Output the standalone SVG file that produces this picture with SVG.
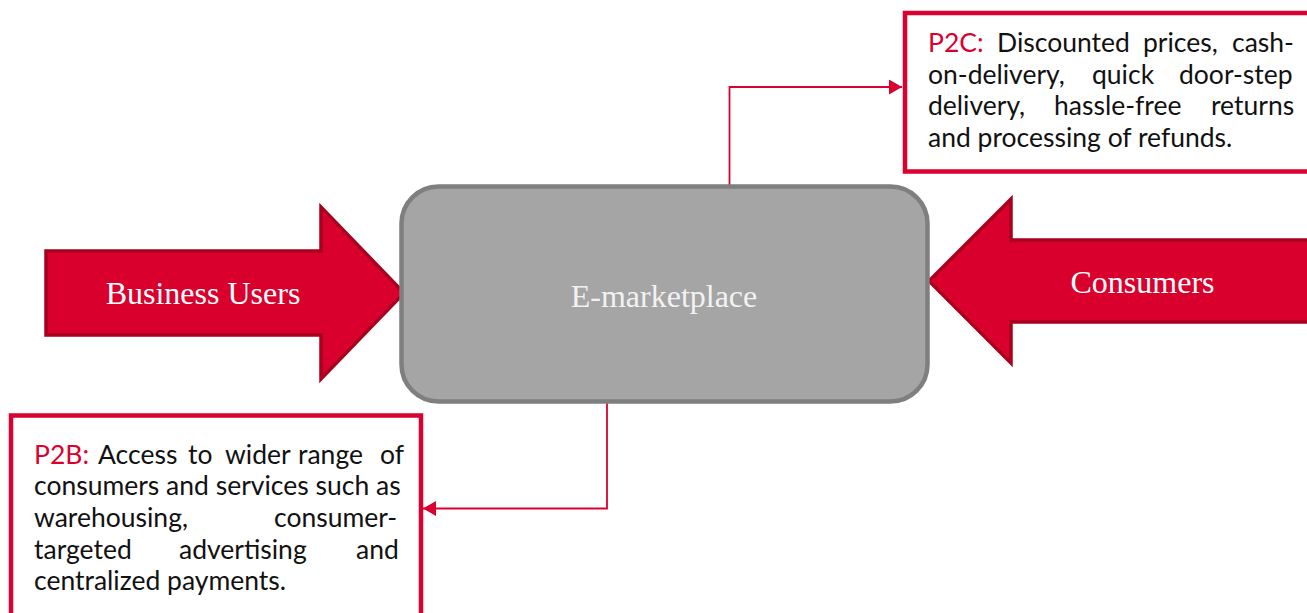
<svg xmlns="http://www.w3.org/2000/svg" width="1307" height="613" viewBox="0 0 1307 613">
<style>
.bigarrow{fill:#DA002E;stroke:#A8001F;stroke-width:3.5;stroke-linejoin:miter}
.serif{font-family:"Liberation Serif","Times New Roman",serif;font-size:32px;text-anchor:middle}
.note{fill:#fff;stroke:#DA0030;stroke-width:4.5}
.body{font-family:Lato,"Liberation Sans",sans-serif;font-size:26.5px;fill:#111}
.red{fill:#DA0030}
.conn{fill:none;stroke:#DA0030;stroke-width:1.8}
</style>
<defs>
<marker id="ah" markerUnits="userSpaceOnUse" markerWidth="14" markerHeight="15" refX="13" refY="7.5" orient="auto">
<path d="M0,0 L13,7.5 L0,15 z" fill="#DA0030"/>
</marker>
</defs>
<rect width="1307" height="613" fill="#fff"/>

<g id="connectors">
<polyline class="conn" points="729.5,186 729.5,87 902,87" marker-end="url(#ah)"/>
<polyline class="conn" points="607,402 607,508.5 423,508.5" marker-end="url(#ah)"/>
</g>

<g id="business-users">
<polygon class="bigarrow" points="46,251 321,251 321,207 404,293 321,379 321,335 46,335"/>
<text class="serif" x="203" y="304" fill="#fff">Business Users</text>
</g>

<g id="consumers">
<polygon class="bigarrow" points="929,281 1011,199 1011,240 1320,240 1320,322 1011,322 1011,363"/>
<text class="serif" x="1142.5" y="293" fill="#fff">Consumers</text>
</g>

<g id="e-marketplace">
<rect x="401.5" y="186.5" width="526" height="215" rx="37" fill="#A5A5A5" stroke="#7F7F7F" stroke-width="4.5"/>
<text class="serif" x="664" y="306.5" fill="#F2F2F2">E-marketplace</text>
</g>

<g id="p2c">
<rect class="note" x="905" y="13" width="420" height="158.5"/>
<text class="body" y="52"><tspan class="red" x="928">P2C:</tspan><tspan x="997">Discounted</tspan><tspan x="1143">prices,</tspan><tspan x="1232">cash-</tspan></text>
<text class="body" y="83.5"><tspan x="928">on-delivery,</tspan><tspan x="1092">quick</tspan><tspan x="1179">door-step</tspan></text>
<text class="body" y="115"><tspan x="928">delivery,</tspan><tspan x="1054">hassle-free</tspan><tspan x="1211">returns</tspan></text>
<text class="body" x="928" y="146.5">and processing of refunds.</text>
</g>

<g id="p2b">
<rect class="note" x="11" y="415.5" width="410" height="220"/>
<text class="body" y="463.5"><tspan class="red" x="34">P2B:</tspan><tspan x="98">Access</tspan><tspan x="188">to</tspan><tspan x="225">wider</tspan><tspan x="298">range</tspan><tspan x="380">of</tspan></text>
<text class="body" x="34" y="495">consumers and services such as</text>
<text class="body" y="527"><tspan x="34">warehousing,</tspan><tspan x="274">consumer-</tspan></text>
<text class="body" y="558.5"><tspan x="34">targeted</tspan><tspan x="179">advertising</tspan><tspan x="356">and</tspan></text>
<text class="body" x="34" y="590">centralized payments.</text>
</g>
</svg>
